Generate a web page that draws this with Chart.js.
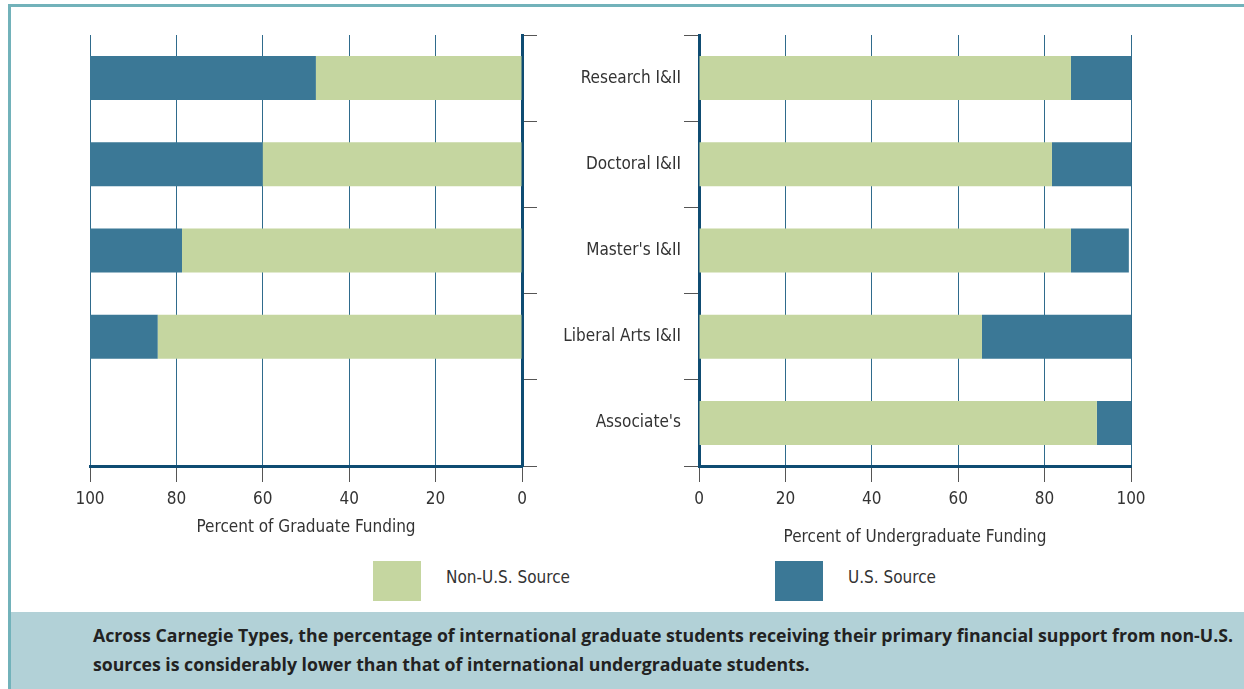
<!DOCTYPE html>
<html lang="en">
<head>
<meta charset="UTF-8">
<title>Primary Financial Support of International Students</title>
<script src="https://cdn.jsdelivr.net/npm/chart.js@4.4.0/dist/chart.umd.min.js"></script>
<style>
    body {
        margin: 0;
        background: #ffffff;
        font-family: 'Liberation Sans Narrow', 'DejaVu Sans Condensed', 'Roboto', sans-serif;
    }
    .frame {
        position: relative;
        width: 1244px;
        height: 689px;
        overflow: hidden;
    }
    .border-top { position: absolute; left: 8px; top: 4px; right: 0; height: 3px; background: #72b2ba; }
    .border-left { position: absolute; left: 8px; top: 4px; width: 3px; bottom: 0; background: #72b2ba; }
    .chart-box { position: absolute; }
    #gradBox { left: 60px; top: 20px; width: 500px; height: 540px; }
    #ugradBox { left: 540px; top: 20px; width: 620px; height: 540px; }
    .legend-swatch { position: absolute; top: 561px; width: 48px; height: 40px; }
    .legend-label { position: absolute; top: 566px; font-size: 17px; color: #333; line-height: 22px; }
    .caption {
        position: absolute;
        left: 11px; top: 612px; right: 0; bottom: 0;
        background: #b2d1d7;
        padding: 9px 0 0 82px;
        font-family: 'Open Sans', sans-serif;
        font-weight: 700;
        font-size: 17.7px;
        line-height: 29px;
        color: #222;
        white-space: nowrap;
    }
</style>
</head>
<body>
<div class="frame">
    <div class="border-top"></div>
    <div class="border-left"></div>
    <div class="chart-box" id="gradBox"><canvas id="gradChart"></canvas></div>
    <div class="chart-box" id="ugradBox"><canvas id="ugradChart"></canvas></div>

    <div class="legend-swatch" style="left:373px; background:#c5d6a0;"></div>
    <div class="legend-label" style="left:446px;">Non-U.S. Source</div>
    <div class="legend-swatch" style="left:775px; background:#3b7896;"></div>
    <div class="legend-label" style="left:848px;">U.S. Source</div>

    <div class="caption">Across Carnegie Types, the percentage of international graduate students receiving their primary financial support from non-U.S.<br>sources is considerably lower than that of international undergraduate students.</div>
</div>

<script>
    // Data (percent)
    const categories = ["Research I&II", "Doctoral I&II", "Master's I&II", "Liberal Arts I&II", "Associate's"];
    const gradNonUS = [47.7, 60, 78.7, 84.3, null];
    const gradUS = [52.3, 40, 21.3, 15.7, null];
    const undergradNonUS = [86.1, 81.7, 86.1, 65.5, 92.1];
    const undergradUS = [13.9, 18.3, 13.4, 34.5, 7.9];
    const xTickStep = 20;

    const GREEN = '#c5d6a0';
    const BLUE = '#3b7896';
    const AXIS_DARK = '#0f4c72';
    const GRID = '#2f6b8c';
    const TICK = '#555555';
    const FONT = "'Liberation Sans Narrow', 'DejaVu Sans Condensed', 'Roboto', sans-serif";

    function datasets(nonUS, us) {
        return [
            { label: 'Non-U.S. Source', data: nonUS, backgroundColor: GREEN, barPercentage: 0.51, categoryPercentage: 1 },
            { label: 'U.S. Source', data: us, backgroundColor: BLUE, barPercentage: 0.51, categoryPercentage: 1 }
        ];
    }

    function xScale(reverse, title, height) {
        return {
            stacked: true,
            reverse: reverse,
            min: 0,
            max: 100,
            ticks: { stepSize: xTickStep, color: '#333', font: { family: FONT, size: 17 }, padding: 7 },
            grid: { color: GRID, lineWidth: 1, tickColor: TICK, tickLength: 16 },
            border: { color: AXIS_DARK, width: 3 },
            title: { display: true, text: title, color: '#333', font: { family: FONT, size: 17 }, padding: 0 },
            afterFit: s => { s.height = height; }
        };
    }

    Chart.defaults.animation = false;

    new Chart(document.getElementById('gradChart'), {
        type: 'bar',
        data: { labels: categories, datasets: datasets(gradNonUS, gradUS) },
        options: {
            indexAxis: 'y',
            responsive: true,
            maintainAspectRatio: false,
            layout: { padding: { left: 30, top: 15, right: 0, bottom: 22 } },
            plugins: { legend: { display: false }, tooltip: { enabled: false } },
            scales: {
                x: xScale(true, 'Percent of Graduate Funding', 72),
                y: {
                    stacked: true,
                    position: 'right',
                    ticks: { display: false },
                    grid: { drawOnChartArea: false, tickLength: 15, tickColor: TICK, offset: true },
                    border: { color: AXIS_DARK, width: 3 },
                    afterFit: s => { s.width = 38; }
                }
            }
        }
    });

    new Chart(document.getElementById('ugradChart'), {
        type: 'bar',
        data: { labels: categories, datasets: datasets(undergradNonUS, undergradUS) },
        options: {
            indexAxis: 'y',
            responsive: true,
            maintainAspectRatio: false,
            layout: { padding: { left: 0, top: 15, right: 29, bottom: 12 } },
            plugins: { legend: { display: false }, tooltip: { enabled: false } },
            scales: {
                x: xScale(false, 'Percent of Undergraduate Funding', 82),
                y: {
                    stacked: true,
                    position: 'left',
                    ticks: { color: '#333', font: { family: FONT, size: 17 }, padding: 3 },
                    grid: { drawOnChartArea: false, tickLength: 15, tickColor: TICK, offset: true },
                    border: { color: AXIS_DARK, width: 3 },
                    afterFit: s => { s.width = 159; }
                }
            }
        }
    });
</script>
</body>
</html>
